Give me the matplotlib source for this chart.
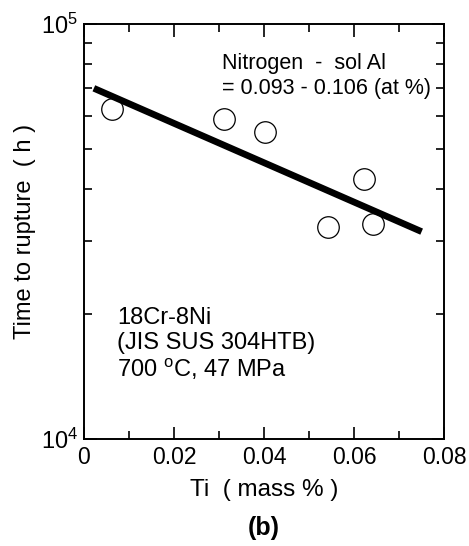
import matplotlib
matplotlib.use('Agg')
import matplotlib.pyplot as plt
from matplotlib.ticker import LogLocator, NullFormatter, MultipleLocator
import numpy as np

plt.rcParams['font.family'] = ['Liberation Sans', 'DejaVu Sans']
plt.rcParams['mathtext.fontset'] = 'custom'
plt.rcParams['mathtext.rm'] = 'Liberation Sans'
plt.rcParams['mathtext.it'] = 'Liberation Sans:italic'
plt.rcParams['mathtext.bf'] = 'Liberation Sans:bold'

# data
ti = [0.0062, 0.031, 0.0402, 0.0541, 0.0622, 0.0643]
rupture_h = [62300, 58900, 54800, 32400, 42300, 33000]

# regression line end points
fit_x = [0.0022, 0.075]
fit_y = [70000, 31600]

fig = plt.figure(figsize=(4.69, 5.46), dpi=100)
ax = fig.add_axes([0.179, 0.196, 0.768, 0.760])

ax.plot(fit_x, fit_y, color='black', lw=4.8, solid_capstyle='butt')
ax.plot(ti, rupture_h, 'o', ms=15.5, mfc='none', mec='black', mew=0.9)

ax.set_yscale('log')
ax.set_xlim(0, 0.08)
ax.set_ylim(1e4, 1e5)
ax.set_xticks([0, 0.02, 0.04, 0.06, 0.08])
ax.set_xticklabels(['0', '0.02', '0.04', '0.06', '0.08'])
ax.xaxis.set_minor_locator(MultipleLocator(0.01))
ax.yaxis.set_minor_locator(LogLocator(base=10, subs=np.arange(2, 10)))
ax.yaxis.set_minor_formatter(NullFormatter())

ax.tick_params(which='both', direction='in', top=True, right=True, width=1.2)
ax.tick_params(which='major', length=9, labelsize=16.5, pad=5)
ax.tick_params(which='minor', length=6)
ax.tick_params(axis='y', which='major', pad=4, labelsize=17)
for s in ax.spines.values():
    s.set_linewidth(1.4)

ax.set_xlabel('Ti  ( mass % )', fontsize=17.5, labelpad=7)
ax.set_ylabel('Time to rupture  ( h )', fontsize=17, labelpad=4)

ax.text(0.382, 0.93, 'Nitrogen  -  sol Al\n= 0.093 - 0.106 (at %)',
        transform=ax.transAxes, fontsize=15.5, va='top', linespacing=1.25)
ax.text(0.093, 0.318, '18Cr-8Ni\n(JIS SUS 304HTB)\n700 $^{\\rm o}$C, 47 MPa',
        transform=ax.transAxes, fontsize=17, va='top', linespacing=1.15)

fig.text(0.563, 0.033, '(b)', fontsize=18, fontweight='bold', ha='center', va='center')

fig.savefig('out.png', dpi=100)
